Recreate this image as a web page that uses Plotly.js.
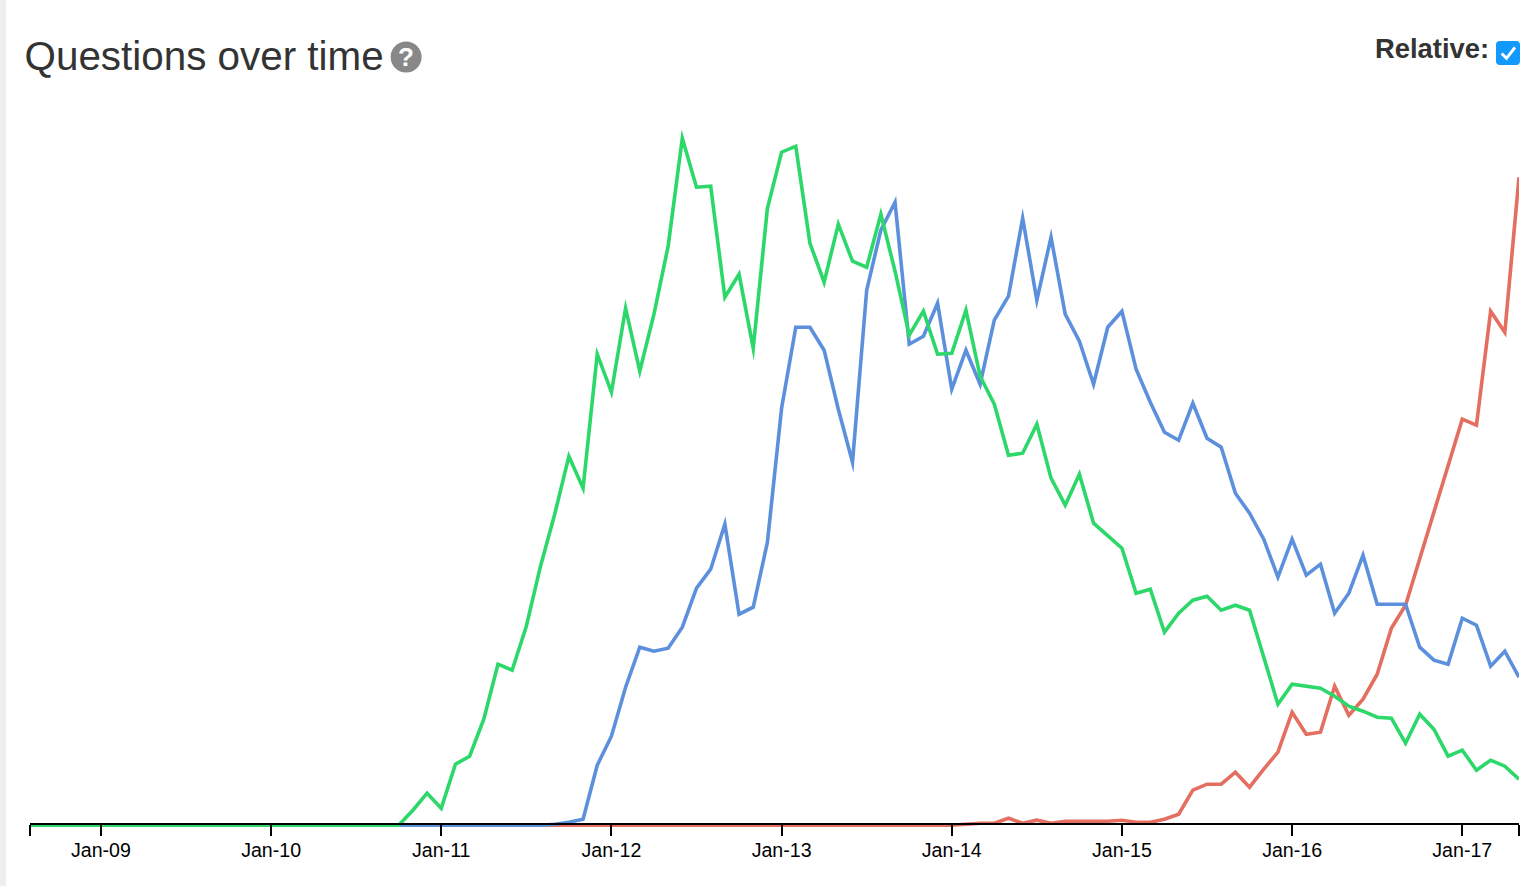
<!DOCTYPE html>
<html>
<head>
<meta charset="utf-8">
<script src="https://cdn.plot.ly/plotly-3.0.1.min.js"></script>
<style>html,body{margin:0;padding:0;background:#fff;overflow:hidden}</style>
</head>
<body>
<div id="chart"></div>
<script>
const months = [
 "Aug-08","Sep-08","Oct-08","Nov-08","Dec-08",
 "Jan-09","Feb-09","Mar-09","Apr-09","May-09","Jun-09","Jul-09","Aug-09","Sep-09","Oct-09","Nov-09","Dec-09",
 "Jan-10","Feb-10","Mar-10","Apr-10","May-10","Jun-10","Jul-10","Aug-10","Sep-10","Oct-10","Nov-10","Dec-10",
 "Jan-11","Feb-11","Mar-11","Apr-11","May-11","Jun-11","Jul-11","Aug-11","Sep-11","Oct-11","Nov-11","Dec-11",
 "Jan-12","Feb-12","Mar-12","Apr-12","May-12","Jun-12","Jul-12","Aug-12","Sep-12","Oct-12","Nov-12","Dec-12",
 "Jan-13","Feb-13","Mar-13","Apr-13","May-13","Jun-13","Jul-13","Aug-13","Sep-13","Oct-13","Nov-13","Dec-13",
 "Jan-14","Feb-14","Mar-14","Apr-14","May-14","Jun-14","Jul-14","Aug-14","Sep-14","Oct-14","Nov-14","Dec-14",
 "Jan-15","Feb-15","Mar-15","Apr-15","May-15","Jun-15","Jul-15","Aug-15","Sep-15","Oct-15","Nov-15","Dec-15",
 "Jan-16","Feb-16","Mar-16","Apr-16","May-16","Jun-16","Jul-16","Aug-16","Sep-16","Oct-16","Nov-16","Dec-16",
 "Jan-17","Feb-17","Mar-17","Apr-17","May-17"
];
const greenValues = [
 0,0,0,0,0,
 0,0,0,0,0,0,0,0,0,0,0,0,
 0,0,0,0,0,0,0,0,0,0,0.15,0.32,
 0.17,0.61,0.69,1.06,1.61,1.55,1.99,2.59,3.11,3.69,3.37,4.71,
 4.33,5.17,4.54,5.11,5.79,6.87,6.38,6.39,5.28,5.51,4.77,6.17,
 6.73,6.79,5.82,5.43,6.01,5.64,5.58,6.11,5.54,4.90,5.14,4.71,
 4.72,5.15,4.49,4.21,3.70,3.72,4.01,3.47,3.20,3.51,3.02,2.89,
 2.77,2.32,2.36,1.93,2.12,2.25,2.29,2.15,2.20,2.15,1.67,1.21,
 1.41,1.39,1.37,1.29,1.19,1.14,1.08,1.07,0.82,1.11,0.96,0.69,
 0.75,0.55,0.65,0.59,0.46
];
const blueValues = [
 0,0,0,0,0,
 0,0,0,0,0,0,0,0,0,0,0,0,
 0,0,0,0,0,0,0,0,0,0,0,0,
 0,0,0,0,0,0,0,0,0.01,0.03,0.06,0.60,
 0.89,1.38,1.78,1.74,1.77,1.98,2.37,2.56,3.01,2.11,2.18,2.83,
 4.17,4.98,4.98,4.75,4.16,3.63,5.35,5.95,6.23,4.81,4.89,5.22,
 4.36,4.75,4.41,5.05,5.29,6.07,5.25,5.88,5.11,4.84,4.41,4.98,
 5.14,4.56,4.23,3.93,3.85,4.22,3.87,3.78,3.32,3.12,2.86,2.48,
 2.86,2.50,2.61,2.12,2.32,2.70,2.21,2.21,2.21,1.78,1.65,1.61,
 2.07,2.00,1.59,1.74,1.48
];
const redValues = [
 0,0,0,0,0,
 0,0,0,0,0,0,0,0,0,0,0,0,
 0,0,0,0,0,0,0,0,0,0,0,0,
 0,0,0,0,0,0,0,0,0,0,0,0,
 0,0,0,0,0,0,0,0,0,0,0,0,
 0,0,0,0,0,0,0,0,0,0,0,0,
 0,0.01,0.02,0.02,0.07,0.02,0.05,0.02,0.04,0.04,0.04,0.04,
 0.05,0.03,0.03,0.06,0.11,0.35,0.41,0.41,0.53,0.38,0.56,0.73,
 1.13,0.91,0.93,1.39,1.10,1.26,1.51,1.97,2.20,2.66,3.14,3.60,
 4.06,4.00,5.14,4.93,6.48
];
const tickPositions = ["Aug-08","Jan-09","Jan-10","Jan-11","Jan-12","Jan-13","Jan-14","Jan-15","Jan-16","Jan-17","May-17"];
const tickLabels = ["","Jan-09","Jan-10","Jan-11","Jan-12","Jan-13","Jan-14","Jan-15","Jan-16","Jan-17",""];

const W = 1538, H = 886;
const M = {l:30, r:19, t:100, b:58};
const px = x => (x - M.l) / (W - M.l - M.r);
const py = y => (H - M.b - y) / (H - M.t - M.b);

function roundedBox(x0, y0, x1, y1, r) {
  return `M${px(x0+r)},${py(y0)} L${px(x1-r)},${py(y0)} Q${px(x1)},${py(y0)} ${px(x1)},${py(y0+r)} ` +
         `L${px(x1)},${py(y1-r)} Q${px(x1)},${py(y1)} ${px(x1-r)},${py(y1)} L${px(x0+r)},${py(y1)} ` +
         `Q${px(x0)},${py(y1)} ${px(x0)},${py(y1-r)} L${px(x0)},${py(y0+r)} Q${px(x0)},${py(y0)} ${px(x0+r)},${py(y0)} Z`;
}

const series = (name, values, color) => ({
  type: 'scatter', mode: 'lines', name, x: months, y: values,
  hoverinfo: 'x+y',
  line: {color, width: 3.6, shape: 'linear'}
});

const data = [
  series('Red', redValues, '#e46e60'),
  series('Blue', blueValues, '#5c90dd'),
  series('Green', greenValues, '#2dd86a')
];

const layout = {
  width: W, height: H, autosize: false,
  margin: {l: M.l, r: M.r, t: M.t, b: M.b, pad: 0},
  paper_bgcolor: '#fff', plot_bgcolor: '#fff',
  showlegend: false,
  font: {family: '"Liberation Sans", Arial, sans-serif', color: '#000'},
  title: {
    text: 'Questions over time',
    font: {family: '"Liberation Sans", Arial, sans-serif', size: 40.4, color: '#333'},
    x: 24.5 / W, xref: 'container', xanchor: 'left',
    y: 1 - 56 / H, yref: 'container', yanchor: 'middle'
  },
  xaxis: {
    type: 'category', categoryorder: 'array', categoryarray: months,
    range: [0, months.length - 1],
    anchor: 'free', position: py(824),
    showgrid: false, zeroline: false, showline: true, linecolor: '#000', linewidth: 2,
    ticks: 'outside', ticklen: 11, tickwidth: 2, tickcolor: '#000',
    tickmode: 'array', tickvals: tickPositions, ticktext: tickLabels,
    tickangle: 0, tickfont: {size: 19.6, color: '#000'},
    ticklabelstandoff: -3
  },
  yaxis: {
    range: [-0.028, 7.252], visible: false, showgrid: false, zeroline: false
  },
  shapes: [
    {type:'rect', xref:'paper', yref:'paper', x0:px(0), x1:px(6), y0:py(H), y1:py(0),
     fillcolor:'#eeeeee', line:{width:0}, layer:'below'},
    {type:'circle', xref:'paper', yref:'paper', x0:px(390.6), x1:px(421.6), y0:py(72.5), y1:py(41.5),
     fillcolor:'#888888', line:{width:0}},
    {type:'path', xref:'paper', yref:'paper', path: roundedBox(1496, 41, 1520, 65, 4),
     fillcolor:'#1199fb', line:{width:0}},
    {type:'path', xref:'paper', yref:'paper',
     path:`M${px(1501.7)},${py(53.5)} L${px(1506.5)},${py(58.3)} L${px(1515)},${py(47.3)}`,
     fillcolor:'rgba(0,0,0,0)', line:{color:'#fff', width:3}}
  ],
  annotations: [
    {xref:'paper', yref:'paper', x:px(1490.5), y:py(48.5), xanchor:'right', yanchor:'middle',
     showarrow:false, text:'<b>Relative:</b>',
     font:{family:'"Liberation Sans", Arial, sans-serif', size:27.4, color:'#333'}},
    {xref:'paper', yref:'paper', x:px(406.1), y:py(57), xanchor:'center', yanchor:'middle',
     showarrow:false, text:'<b>?</b>',
     font:{family:'"Liberation Sans", Arial, sans-serif', size:26, color:'#fff'}}
  ]
};

Plotly.newPlot('chart', data, layout, {displayModeBar: false, responsive: false}).then(() => {
  document.querySelectorAll('#chart .js-line').forEach(el => {
    el.style.strokeMiterlimit = '10';
    el.style.strokeLinejoin = 'miter';
  });
});
</script>
</body>
</html>
